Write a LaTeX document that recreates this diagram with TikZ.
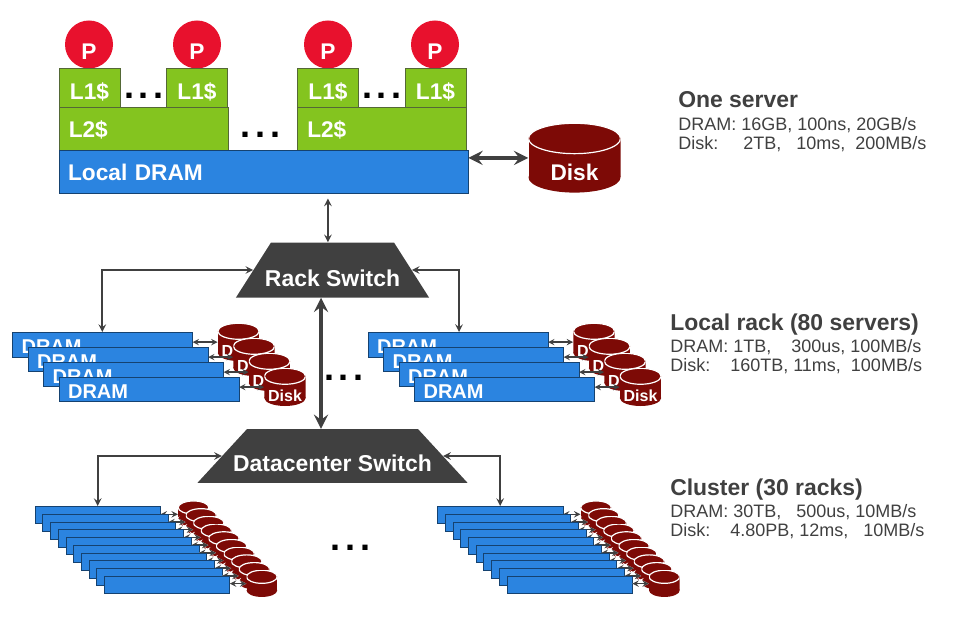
\documentclass[tikz,border=0pt]{standalone}
\usepackage{fontspec}
\setmainfont{Liberation Sans}
\usepackage{xcolor}
\usepackage{tikz}
\usetikzlibrary{shapes.geometric, arrows, positioning, calc}
\definecolor{cpu}{HTML}{E8112D}
\definecolor{cache}{HTML}{84C41F}
\definecolor{mem}{HTML}{2B84E0}
\definecolor{hdd}{HTML}{7D0A06}
\definecolor{ink}{HTML}{404040}
\tikzset{diskbody/.style 2 args={rectangle, inner sep=0pt, anchor=north, text=white, text depth=0pt, path picture={
  \fill[hdd] ([yshift=-#2]path picture bounding box.north) ellipse (#1 and #2);
  \fill[hdd] ([yshift=-#2]path picture bounding box.north west) rectangle ([yshift=#2]path picture bounding box.south east);
  \fill[hdd] ([yshift=#2]path picture bounding box.south) ellipse (#1 and #2);
  \draw[white, line width=0.9pt] ([yshift=-#2]path picture bounding box.north) ellipse (#1 and #2);
}}}
\tikzstyle{proc} = [circle, fill=cpu, minimum size=36pt, inner sep=0pt, text=white, text height=23pt, text depth=0pt, font=\fontsize{17}{17}\selectfont\bfseries]
\tikzstyle{cachebox} = [rectangle, draw=ink!70!cache, fill=cache, anchor=north west, inner ysep=0pt, inner xsep=7.5pt, align=left, text=white, text depth=0pt, font=\fontsize{17}{17}\selectfont\bfseries]
\tikzstyle{drambox} = [rectangle, draw=mem!50!black, fill=mem, anchor=north west, inner ysep=0pt, inner xsep=7pt, align=left, text=white, text height=13.2pt, text depth=0pt, font=\fontsize{15}{15}\selectfont\bfseries, minimum height=18.4pt, text width=121pt]
\tikzstyle{tinybox} = [rectangle, draw=mem!50!black, fill=mem, anchor=north west, minimum width=94pt, minimum height=13pt, inner sep=0pt]
\tikzstyle{diskbig} = [diskbody={34.5pt}{11.4pt}, text height=34pt, font=\fontsize{17}{17}\selectfont\bfseries, minimum width=69pt, minimum height=52pt]
\tikzstyle{diskmid} = [diskbody={15.5pt}{6pt}, text height=22pt, font=\fontsize{12}{12}\selectfont\bfseries, minimum width=31pt, minimum height=28.3pt]
\tikzstyle{disktiny} = [diskbody={11.5pt}{4.9pt}, minimum width=23pt, minimum height=20pt]
\tikzstyle{switch} = [trapezium, fill=ink, trapezium stretches=true, inner sep=1pt]
\tikzstyle{swlabel} = [text=white, font=\fontsize{17.2}{17.2}\selectfont\bfseries]
\tikzstyle{dotrow} = [inner sep=0pt, font=\fontsize{27}{27}\selectfont\bfseries]
\tikzstyle{arrow} = [draw=ink, line width=1.5pt, <->, >=stealth]
\tikzstyle{fatarrow} = [draw=ink, line width=3.6pt, <->, >=stealth]
\tikzstyle{minarrow} = [draw=ink, line width=1.1pt, <->, >=stealth]
\tikzstyle{heading} = [anchor=base west, inner sep=0pt, text=ink, font=\fontsize{17.2}{17.2}\selectfont\bfseries]
\tikzstyle{figures} = [anchor=base west, inner sep=0pt, text=ink, font=\fontsize{13.5}{13.5}\selectfont]
\newcommand{\threedots}{.\kern3.4pt.\kern3.4pt.}

\begin{document}
\begin{tikzpicture}[x=0.75pt, y=-0.75pt]
\useasboundingbox (0,0) rectangle (962,620);

% Processors
\foreach \px/\pn in {89/a, 197/b, 328/c, 435/d}
  \node[proc] (p\pn) at (\px,44.5) {P};

% Caches
\foreach \cx/\cn in {58.5/a, 166/b, 297/c, 404.5/d}
  \node[cachebox, text height=17.8pt, minimum width=46pt, minimum height=29pt] (l\cn) at (\cx,68) {L1\$};
\foreach \cx/\cn in {58.5/a, 297/c}
  \node[cachebox, text height=14pt, minimum width=127pt, text width=112pt, minimum height=32pt] (m\cn) at (\cx,107) {L2\$};

% Local memory and disk
\node[drambox, text height=13.7pt, minimum height=32pt, text width=293pt, font=\fontsize{17}{17}\selectfont\bfseries] (dram) at (58.5,150) {Local DRAM};
\node[diskbig] (disk) at (574.5,123) {Disk};
\draw[fatarrow] (dram.east |- disk.west) -- (disk.west);

% Switches
\node[switch, trapezium angle=74.1, minimum width=144.75pt, minimum height=41.25pt] (rsw) at (332.5,270) {};
\node[swlabel] (rswt) at (332.5,278) {Rack Switch};
\node[switch, trapezium angle=73.9, minimum width=202.5pt, minimum height=40.25pt] (dsw) at (332.5,456) {};
\node[swlabel] (dswt) at (332.5,463) {Datacenter Switch};
\draw[arrow, shorten <=4pt] ([xshift=-3.4pt]rsw.north |- dram.south) -- ([xshift=-3.4pt]rsw.north);
\draw[fatarrow] ([xshift=-8.6pt]rsw.south) -- ([xshift=-8.6pt]dsw.north);

% Racks
\foreach \ox/\rn in {0/a, 355.5/b} {
  \foreach \i in {1,2,3,4} {
    \node[diskmid] (hd\rn\i) at ({\ox+238.5+15.5*(\i-1)},{323+15*(\i-1)}) {Disk};
    \node[drambox] (rk\rn\i) at ({\ox+12+15.5*(\i-1)},{332+14.9*(\i-1)}) {DRAM};
    \draw[minarrow] (rk\rn\i.east |- hd\rn\i.west) -- (hd\rn\i.west);
  }
}
\draw[arrow] (rsw.west) -| (rka1.north);
\draw[arrow] (rsw.east) -| ([xshift=1pt]rkb1.north);

% Clusters
\foreach \ox/\rn in {0/a, 402.5/b} {
  \foreach \i in {1,...,10} {
    \node[disktiny] (cd\rn\i) at ({\ox+193.5+7.6*(\i-1)},{500.7+7.7*(\i-1)}) {};
    \node[tinybox] (cl\rn\i) at ({\ox+34.7+7.7*(\i-1)},{506+7.75*(\i-1)}) {};
    \draw[minarrow, preaction={draw=white, line width=2.6pt}] (cl\rn\i.east |- cd\rn\i.west) -- (cd\rn\i.west);
  }
}
\draw[arrow] (dsw.west) -| (cla1.north);
\draw[arrow] (dsw.east) -| (clb1.north);

% Dots
\node[dotrow] (dt1) at (144,96) {\threedots};
\node[dotrow] (dt2) at (382,96) {\threedots};
\node[dotrow] (dt3) at (260.5,135) {\threedots};
\node[dotrow] (dt4) at (344,378) {\threedots};
\node[dotrow] (dt5) at (350.5,548) {\threedots};

% Figures
\node[heading] (t1) at (678,108) {One server};
\node[figures] (t1a) at (678,131) {DRAM: 16GB, 100ns, 20GB/s};
\node[figures] (t1b) at (678,150) {Disk:~~~~~2TB,~~~10ms,~~200MB/s};
\node[heading] (t2) at (670,330) {Local rack (80 servers)};
\node[figures] (t2a) at (670,352) {DRAM: 1TB,~~~~300us, 100MB/s};
\node[figures] (t2b) at (670,371) {Disk:~~~~160TB, 11ms,~~100MB/s};
\node[heading] (t3) at (670,495) {Cluster (30 racks)};
\node[figures] (t3a) at (670,517) {DRAM: 30TB,~~~500us, 10MB/s};
\node[figures] (t3b) at (670,536) {Disk:~~~~4.80PB, 12ms,~~~10MB/s};
\end{tikzpicture}
\end{document}
